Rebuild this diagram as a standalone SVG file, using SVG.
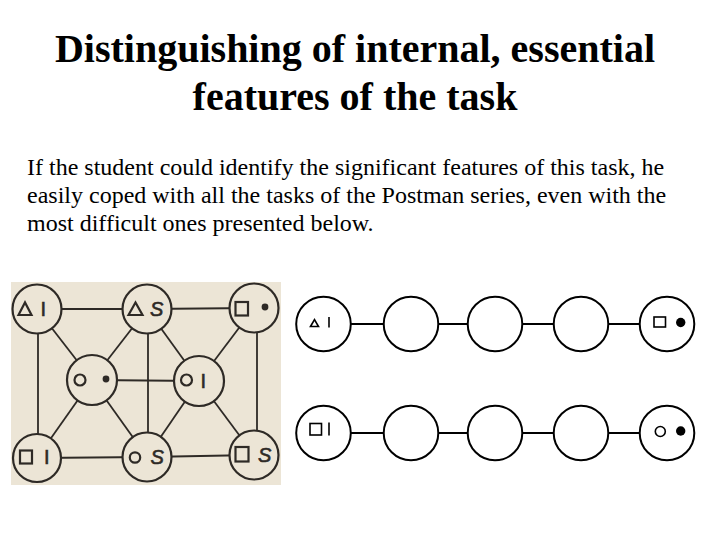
<svg xmlns="http://www.w3.org/2000/svg" width="720" height="540" viewBox="0 0 720 540">
<style>
.title{font-family:"Liberation Serif","Times New Roman",serif;font-weight:bold;font-size:40px;fill:#000;text-anchor:middle}
.body{font-family:"Liberation Serif","Times New Roman",serif;font-size:24px;fill:#000}
.g-edge{stroke:#2e2a26;stroke-width:1.8;fill:none}
.g-node{fill:#ece5d6;stroke:#2e2a26;stroke-width:2.2}
.g-sym{fill:none;stroke:#2e2a26;stroke-width:2.2}
.g-dot{fill:#2e2a26}
.g-txt{font-family:"Liberation Sans",Arial,sans-serif;font-size:20px;fill:#2e2a26;stroke:#2e2a26;stroke-width:0.6}
.g-s{font-style:italic}
.c-edge{stroke:#000;stroke-width:2;fill:none}
.c-node{fill:#fff;stroke:#000;stroke-width:2}
.c-sym{fill:none;stroke:#000;stroke-width:1.6}
.c-dot{fill:#000}
</style>
<rect width="720" height="540" fill="#fff"/>
<text class="title" x="355" y="62">Distinguishing of internal, essential</text>
<text class="title" x="355" y="110">features of the task</text>
<text class="body" x="27" y="175">If the student could identify the significant features of this task, he</text>
<text class="body" x="27" y="203">easily coped with all the tasks of the Postman series, even with the</text>
<text class="body" x="27" y="231">most difficult ones presented below.</text>

<!-- left graph background -->
<rect x="11" y="282" width="270" height="203" fill="#ece5d6"/>
<g id="graph-edges">
<line class="g-edge" x1="37" y1="309" x2="147" y2="309"/>
<line class="g-edge" x1="147" y1="309" x2="254" y2="308"/>
<line class="g-edge" x1="38" y1="309" x2="38" y2="458"/>
<line class="g-edge" x1="257" y1="308" x2="257" y2="455"/>
<line class="g-edge" x1="37" y1="458" x2="147" y2="457"/>
<line class="g-edge" x1="147" y1="457" x2="254" y2="455"/>
<line class="g-edge" x1="37" y1="309" x2="92" y2="380"/>
<line class="g-edge" x1="147" y1="309" x2="92" y2="380"/>
<line class="g-edge" x1="147" y1="309" x2="199" y2="381"/>
<line class="g-edge" x1="254" y1="308" x2="199" y2="381"/>
<line class="g-edge" x1="92" y1="380" x2="199" y2="381"/>
<line class="g-edge" x1="92" y1="380" x2="37" y2="458"/>
<line class="g-edge" x1="92" y1="380" x2="147" y2="457"/>
<line class="g-edge" x1="199" y1="381" x2="147" y2="457"/>
<line class="g-edge" x1="199" y1="381" x2="254" y2="455"/>
<line class="g-edge" x1="148" y1="309" x2="148" y2="457"/>
</g>
<g id="g-tri-I">
<circle class="g-node" cx="37" cy="309" r="24.5"/>
<polygon class="g-sym" points="18.5,315 25,302.5 31.5,315"/>
<text class="g-txt" x="40.5" y="316">I</text>
</g>
<g id="g-tri-S">
<circle class="g-node" cx="147" cy="309" r="24.5"/>
<polygon class="g-sym" points="128.5,315 135.5,302.5 142.5,315"/>
<text class="g-txt g-s" x="150" y="316">S</text>
</g>
<g id="g-sq-dot">
<circle class="g-node" cx="254" cy="308" r="24.5"/>
<rect class="g-sym" x="235.5" y="302" width="12.5" height="13.5"/>
<circle class="g-dot" cx="265" cy="307" r="3.4"/>
</g>
<g id="g-circ-dot">
<circle class="g-node" cx="92" cy="380" r="25"/>
<circle class="g-sym" cx="80" cy="380" r="5.5"/>
<circle class="g-dot" cx="106" cy="379" r="3.4"/>
</g>
<g id="g-circ-I">
<circle class="g-node" cx="199" cy="381" r="25"/>
<circle class="g-sym" cx="186.5" cy="380" r="5.5"/>
<text class="g-txt" x="200.5" y="388">I</text>
</g>
<g id="g-sq-I">
<circle class="g-node" cx="37" cy="458" r="24"/>
<rect class="g-sym" x="20" y="450.5" width="12" height="13"/>
<text class="g-txt" x="44" y="464">I</text>
</g>
<g id="g-circ-S">
<circle class="g-node" cx="147" cy="457" r="24.5"/>
<circle class="g-sym" cx="135" cy="457.5" r="5.2"/>
<text class="g-txt g-s" x="150.5" y="464">S</text>
</g>
<g id="g-sq-S">
<circle class="g-node" cx="254" cy="455" r="24.5"/>
<rect class="g-sym" x="235.5" y="447" width="13" height="14.5"/>
<text class="g-txt g-s" x="258" y="462">S</text>
</g>

<!-- right chains -->
<g id="chain-edges">
<line class="c-edge" x1="323" y1="324" x2="667" y2="324"/>
<line class="c-edge" x1="323" y1="433" x2="667" y2="433"/>
</g>
<g id="r1-n1">
<circle class="c-node" cx="323.5" cy="324" r="27.3"/>
<polygon class="c-sym" points="310.5,326.5 314.5,319.5 318.5,326.5"/>
<line class="c-sym" x1="329" y1="317" x2="329" y2="327.5"/>
</g>
<g id="r1-n2"><circle class="c-node" cx="411" cy="324" r="27.3"/></g>
<g id="r1-n3"><circle class="c-node" cx="495" cy="324" r="27.3"/></g>
<g id="r1-n4"><circle class="c-node" cx="581" cy="324" r="27.3"/></g>
<g id="r1-n5">
<circle class="c-node" cx="667" cy="324" r="27.3"/>
<rect class="c-sym" x="654" y="317" width="11.5" height="10"/>
<circle class="c-dot" cx="680.7" cy="322.5" r="4.7"/>
</g>
<g id="r2-n1">
<circle class="c-node" cx="323.5" cy="433" r="27.3"/>
<rect class="c-sym" x="310" y="423.5" width="11.5" height="11.5"/>
<line class="c-sym" x1="329" y1="422.5" x2="329" y2="435.5"/>
</g>
<g id="r2-n2"><circle class="c-node" cx="411" cy="433" r="27.3"/></g>
<g id="r2-n3"><circle class="c-node" cx="495" cy="433" r="27.3"/></g>
<g id="r2-n4"><circle class="c-node" cx="581" cy="433" r="27.3"/></g>
<g id="r2-n5">
<circle class="c-node" cx="667" cy="433" r="27.3"/>
<circle class="c-sym" cx="660.3" cy="431.5" r="5"/>
<circle class="c-dot" cx="680.7" cy="431" r="4.7"/>
</g>
</svg>
